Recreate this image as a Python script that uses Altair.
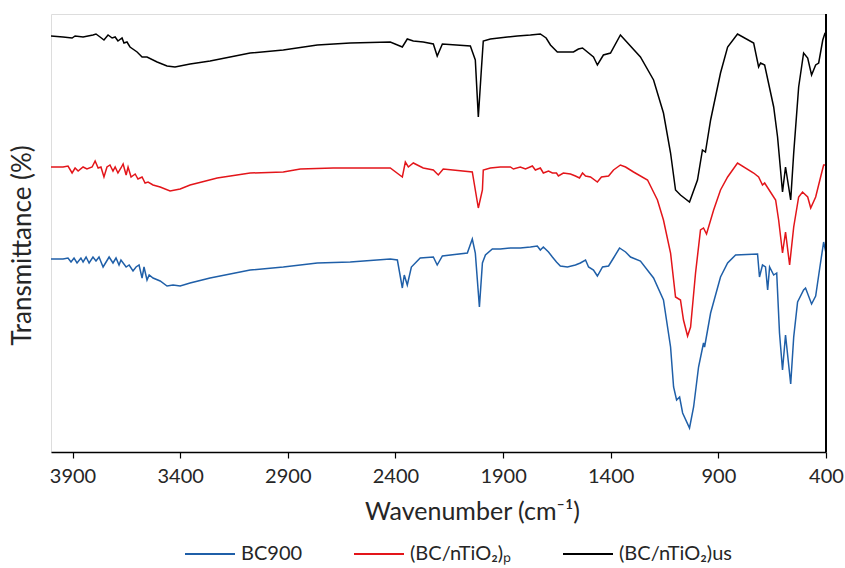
import altair as alt
import pandas as pd

# Wavenumber (cm-1) and transmittance (arbitrary offset units)
us_wn = [4000, 3944, 3902, 3888, 3851, 3805, 3791, 3772, 3754, 3735, 3716, 3702, 3689, 3670, 3661,
         3647, 3633, 3600, 3577, 3554, 3507, 3461, 3424, 3354, 3261, 3075, 2921, 2763, 2610, 2424,
         2368, 2345, 2317, 2271, 2224, 2206, 2182, 2052, 2029, 2015, 2001, 1992, 1959, 1880, 1834,
         1773, 1727, 1700, 1680, 1648, 1573, 1550, 1531, 1480, 1462, 1434, 1401, 1355, 1262, 1201,
         1155, 1122, 1099, 1076, 1034, 997, 974, 960, 936, 890, 857, 811, 736, 713, 704, 685, 643,
         625, 602, 588, 564, 550, 527, 504, 485, 467, 448, 434, 415, 406, 400]
us_t = [416, 415, 414, 416, 415, 417, 418, 415, 412, 417, 414, 415, 411, 414, 409,
        410, 405, 400, 395, 395, 390, 386, 385, 388, 391, 399, 402, 407, 409, 410,
        405, 413, 411, 410, 408, 396, 408, 406, 392, 335, 382, 411, 413, 415, 416,
        417, 418, 414, 407, 400, 400, 403, 404, 395, 387, 397, 399, 417, 395, 372,
        339, 299, 262, 257, 250, 272, 302, 300, 332, 379, 405, 418, 409, 385, 389, 387, 345,
        315, 260, 285, 252, 299, 365, 399, 394, 377, 387, 389, 412, 418, 416]

p_wn = [4000, 3944, 3921, 3902, 3888, 3874, 3851, 3833, 3809, 3795, 3781, 3768, 3754, 3740, 3726,
        3712, 3702, 3689, 3675, 3665, 3651, 3642, 3628, 3609, 3596, 3577, 3563, 3549, 3526, 3493,
        3447, 3400, 3354, 3228, 3075, 2921, 2842, 2689, 2424, 2368, 2354, 2340, 2317, 2271, 2224,
        2201, 2178, 2043, 2015, 1996, 1992, 1959, 1913, 1866, 1852, 1820, 1796, 1764, 1750, 1727,
        1713, 1689, 1671, 1652, 1643, 1620, 1587, 1564, 1545, 1531, 1517, 1494, 1462, 1443, 1410,
        1387, 1355, 1331, 1294, 1229, 1183, 1155, 1122, 1099, 1076, 1062, 1043, 1029, 1006, 983,
        969, 955, 922, 890, 857, 811, 736, 713, 695, 685, 634, 620, 602, 588, 569, 550, 527, 509,
        485, 471, 448, 425, 411, 400]
p_t = [285, 285, 286, 279, 284, 281, 285, 283, 285, 291, 284, 285, 275, 285, 287,
       281, 285, 279, 284, 288, 277, 285, 275, 278, 273, 275, 269, 270, 267, 265,
       261, 263, 267, 274, 279, 280, 283, 284, 284, 275, 290, 285, 289, 284, 282,
       277, 283, 280, 244, 262, 282, 284, 285, 285, 283, 285, 283, 286, 282, 284,
       279, 281, 279, 279, 276, 279, 278, 276, 274, 279, 276, 275, 270, 275, 276,
       282, 287, 285, 280, 272, 252, 232, 199, 155, 152, 132, 116, 125, 179, 222,
       224, 218, 242, 262, 275, 289, 279, 275, 267, 269, 252, 232, 199, 220, 187, 225, 255, 260,
       255, 244, 255, 275, 287, 287]

bc_wn = [4000, 3944, 3921, 3907, 3893, 3879, 3861, 3851, 3837, 3823, 3805, 3791, 3777, 3758, 3744,
         3730, 3712, 3698, 3684, 3675, 3651, 3637, 3619, 3605, 3591, 3577, 3568, 3554, 3544, 3526,
         3493, 3461, 3433, 3400, 3354, 3261, 3075, 2921, 2763, 2610, 2424, 2391, 2368, 2359, 2345,
         2326, 2285, 2224, 2206, 2182, 2066, 2043, 2029, 2010, 1996, 1982, 1950, 1913, 1866, 1820,
         1773, 1741, 1727, 1713, 1689, 1671, 1652, 1634, 1601, 1564, 1541, 1517, 1503, 1480, 1462,
         1438, 1410, 1387, 1359, 1331, 1308, 1262, 1201, 1155, 1122, 1108, 1094, 1080, 1066, 1034,
         1015, 992, 969, 964, 936, 890, 857, 820, 718, 709, 695, 681, 671, 662, 643, 629, 616, 602,
         588, 564, 550, 532, 504, 495, 467, 448, 429, 411, 400]
bc_t = [193, 193, 194, 190, 194, 189, 194, 190, 195, 189, 195, 191, 195, 185, 190,
        195, 189, 194, 187, 192, 185, 187, 181, 185, 187, 174, 185, 172, 177, 174,
        171, 166, 167, 166, 169, 174, 182, 185, 189, 190, 193, 192, 164, 177, 167,
        185, 194, 195, 187, 196, 199, 213, 199, 145, 189, 197, 203, 203, 204, 204,
        205, 206, 202, 205, 200, 195, 190, 186, 185, 187, 189, 192, 185, 182, 176,
        185, 186, 194, 204, 200, 195, 191, 174, 152, 105, 65, 52, 55, 39, 24,
        45, 85, 109, 105, 139, 175, 189, 197, 198, 175, 187, 185, 162, 185, 177, 179, 119, 82,
        117, 68, 115, 150, 162, 164, 148, 156, 184, 210, 199]

series_names = ["BC900", "(BC/nTiO\u2082)\u209a", "(BC/nTiO\u2082)us"]
series_colors = ["#1f5fa8", "#e3151a", "#000000"]
x_ticks = [3900, 3400, 2900, 2400, 1900, 1400, 900, 400]

rows = []
for name, wn, t in [(series_names[0], bc_wn, bc_t), (series_names[1], p_wn, p_t), (series_names[2], us_wn, us_t)]:
    for a, b in zip(wn, t):
        rows.append({"wn": a, "t": b, "series": name})
df = pd.DataFrame(rows)

FONT = "Lato"
TXT = "#262626"

lines = alt.Chart(df).mark_line(strokeWidth=1.5, clip=True).encode(
    x=alt.X("wn:Q",
            scale=alt.Scale(domain=[4000, 400], nice=False, zero=False),
            axis=alt.Axis(values=x_ticks, format="d", title="Wavenumber (cm\u207b\u00b9)", grid=False,
                          domainColor="#000000", domainWidth=1.5, tickColor="#000000",
                          tickSize=6, tickWidth=1.2, labelFontSize=20, labelColor=TXT,
                          labelPadding=8, labelFont=FONT, titleFont=FONT, titleFontSize=25,
                          titleFontWeight="normal", titleColor=TXT, titlePadding=13,
                          titleX=421, titleAlign="center",
                          labelFlush=False, labelOverlap=False)),
    y=alt.Y("t:Q", scale=alt.Scale(domain=[0, 438], nice=False, zero=False),
            axis=alt.Axis(title="Transmittance (%)", labels=False, ticks=False, domain=False,
                          grid=False, titleFont=FONT, titleFontSize=26, titleFontWeight="normal",
                          titleColor=TXT, titlePadding=16, titleY=231)),
    color=alt.Color("series:N",
                    scale=alt.Scale(domain=series_names, range=series_colors),
                    sort=series_names,
                    legend=alt.Legend(title=None, orient="none", direction="horizontal",
                                      legendX=133, legendY=514, symbolType="stroke",
                                      symbolSize=2500, symbolStrokeWidth=2, labelFont=FONT,
                                      labelFontSize=20, labelColor=TXT, columnPadding=47,
                                      labelOffset=5)),
    order=alt.Order("wn:Q", sort="descending"),
    detail="series:N",
)

right_axis = alt.Chart(pd.DataFrame({"wn": [400]})).mark_rule(color="#000000", strokeWidth=2).encode(
    x=alt.X("wn:Q")
)

chart = alt.layer(lines, right_axis).properties(
    width=775, height=438,
    autosize=alt.AutoSizeParams(type="none"),
    padding={"left": 51, "top": 14, "right": 19, "bottom": 116},
).configure_view(stroke="#8c8c8c", strokeWidth=1.2).configure(background="white")

chart.save("out.html", embed_options={"renderer": "svg", "actions": False})
